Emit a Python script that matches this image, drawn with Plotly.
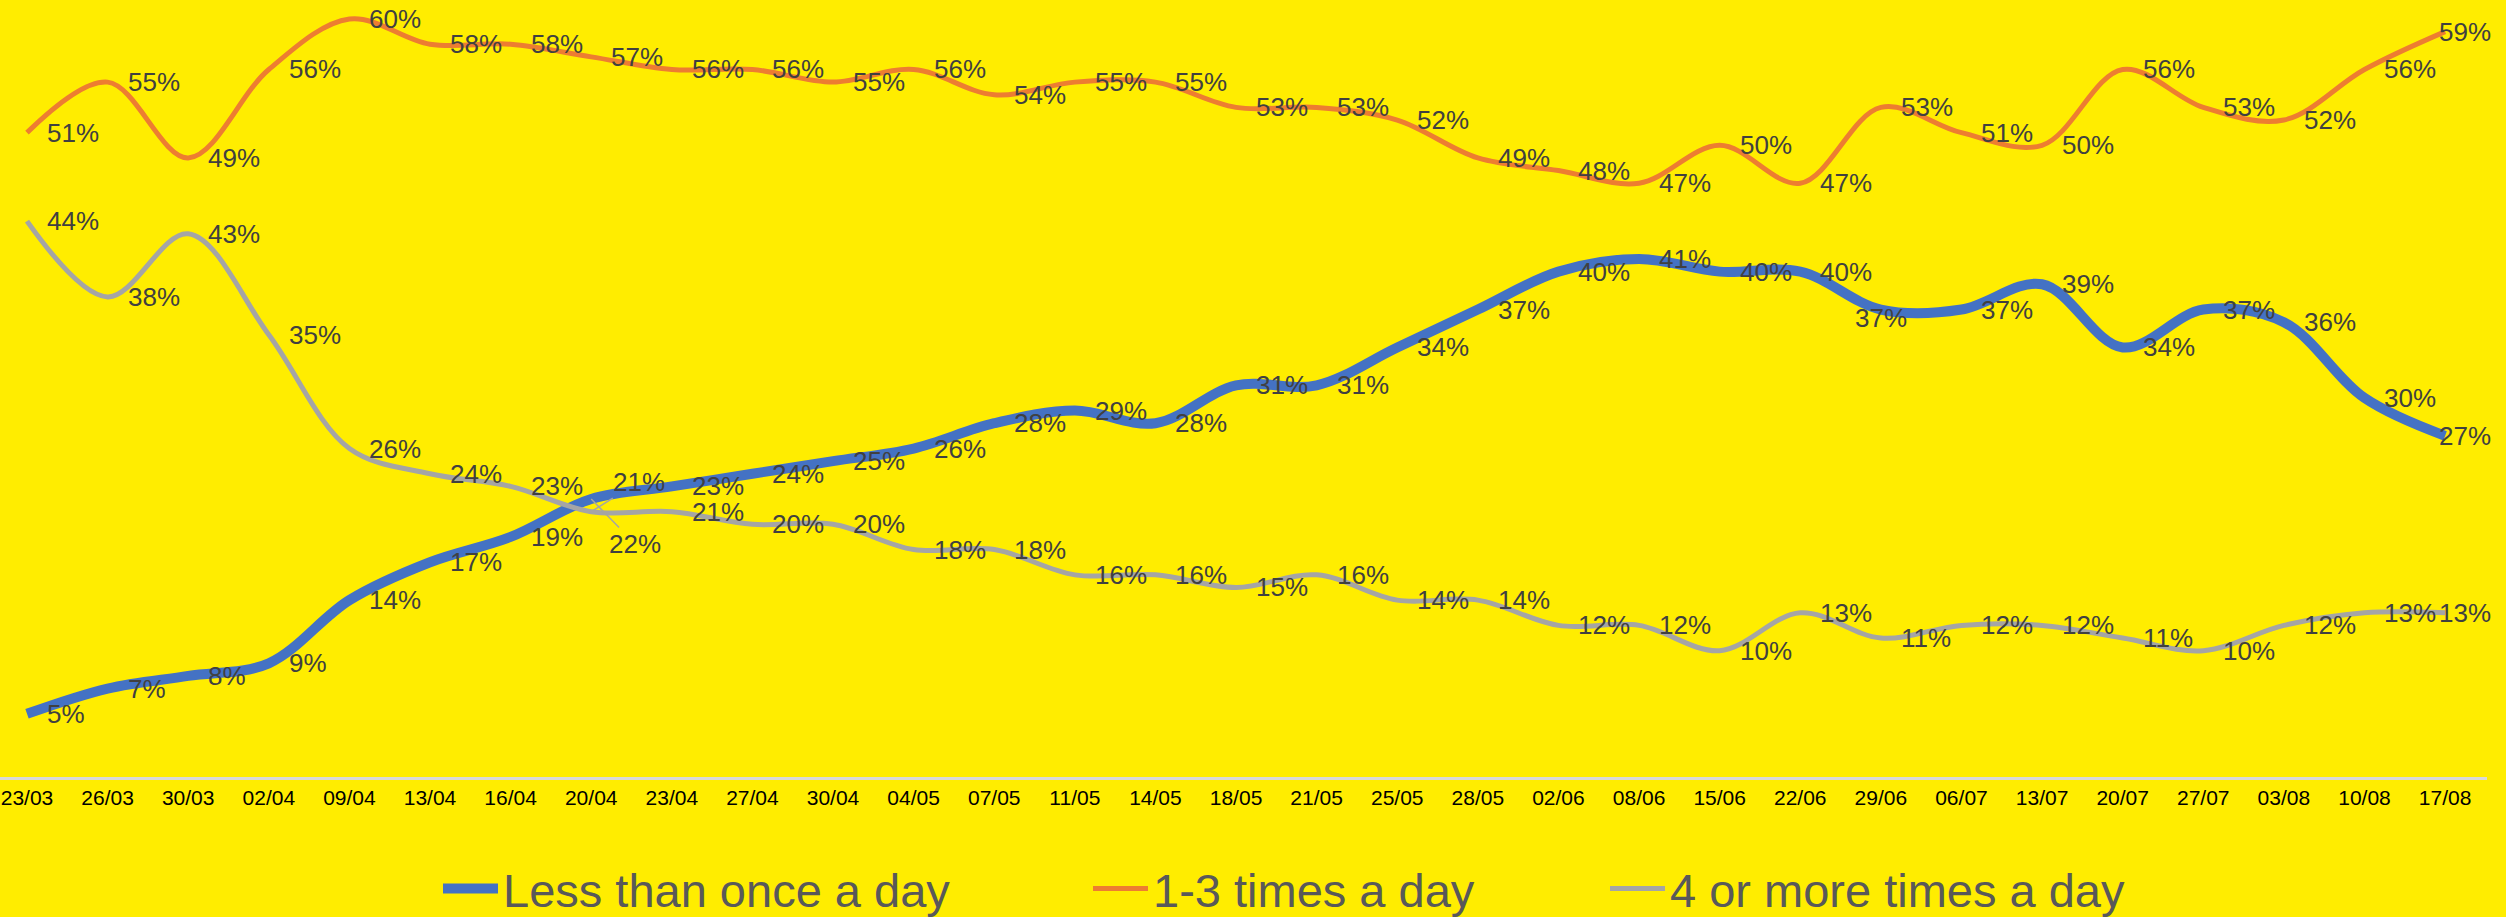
import plotly.graph_objects as go

# Survey waves (dd/mm)
dates = ["23/03", "26/03", "30/03", "02/04", "09/04", "13/04", "16/04", "20/04",
         "23/04", "27/04", "30/04", "04/05", "07/05", "11/05", "14/05", "18/05",
         "21/05", "25/05", "28/05", "02/06", "08/06", "15/06", "22/06", "29/06",
         "06/07", "13/07", "20/07", "27/07", "03/08", "10/08", "17/08"]

# Share of respondents (%)
less_than_once = [5, 7, 8, 9, 14, 17, 19, 22, 23, 24, 25, 26, 28, 29, 28, 31,
                  31, 34, 37, 40, 41, 40, 40, 37, 37, 39, 34, 37, 36, 30, 27]
one_to_three = [51, 55, 49, 56, 60, 58, 58, 57, 56, 56, 55, 56, 54, 55, 55, 53,
                53, 52, 49, 48, 47, 50, 47, 53, 51, 50, 56, 53, 52, 56, 59]
four_or_more = [44, 38, 43, 35, 26, 24, 23, 21, 21, 20, 20, 18, 18, 16, 16, 15,
                16, 14, 14, 12, 12, 10, 13, 11, 12, 12, 11, 10, 12, 13, 13]

series_names = ["Less than once a day", "1-3 times a day", "4 or more times a day"]

BG = "#FFED00"
LABEL_COLOR = "#404040"
FONT = "Liberation Sans, Arial, sans-serif"

styles = [
    dict(color="#4472C4", width=10),
    dict(color="#ED7D31", width=5),
    dict(color="#A5A5A5", width=5),
]
legend_keys = ["legend", "legend2", "legend3"]
legend_left_px = [438, 1088, 1605]

PLOT_W = 2506 - 19
last = len(dates) - 1

fig = go.Figure()
all_values = [less_than_once, one_to_three, four_or_more]
for name, vals, st, lg in zip(series_names, all_values, styles, legend_keys):
    fig.add_trace(go.Scatter(
        x=dates, y=vals, mode="lines", name=name, legend=lg,
        line=dict(color=st["color"], width=st["width"], shape="spline", smoothing=1),
        hoverinfo="skip",
    ))

# Label placement tweaks for crowded points: (series index, point index)
special = {
    (0, 23): dict(xanchor="center", xshift=0, yshift=-8),
    (0, last): dict(xshift=-8),
    (1, last): dict(xshift=-8),
    (2, last): dict(xshift=-8),
}
# Labels pulled away from the crossing, with leader lines
leaders = {
    (0, 7): dict(ax=44, ay=45),
    (2, 7): dict(ax=48, ay=-30),
}

annotations = []
for si, vals in enumerate(all_values):
    for i, v in enumerate(vals):
        key = (si, i)
        base = dict(x=dates[i], y=v, xref="x", yref="y", text=f"{v}%",
                    font=dict(family=FONT, size=26, color=LABEL_COLOR))
        if key in leaders:
            base.update(showarrow=True, arrowhead=0, arrowwidth=1.5,
                        arrowcolor="#A5A5A5", standoff=0, **leaders[key])
        else:
            opts = dict(xanchor="left", yanchor="middle", xshift=18, showarrow=False)
            opts.update(special.get(key, {}))
            base.update(opts)
        annotations.append(base)

layout_legends = {}
for lg, px in zip(legend_keys, legend_left_px):
    layout_legends[lg] = dict(
        x=px / PLOT_W, y=-0.144, xanchor="left", yanchor="middle",
        orientation="h", bgcolor="rgba(0,0,0,0)", borderwidth=0,
        font=dict(family=FONT, size=47, color="#595959"),
        itemwidth=55,
    )

fig.update_layout(
    width=2506, height=917,
    paper_bgcolor=BG, plot_bgcolor=BG,
    margin=dict(l=0, r=19, t=0, b=140, autoexpand=False),
    showlegend=True,
    annotations=annotations,
    xaxis=dict(
        type="category", range=[-0.335, 30.52],
        showgrid=False, zeroline=False, ticks="",
        showline=True, linecolor="#D9D9D9", linewidth=3,
        tickfont=dict(family=FONT, size=21, color="#000000"),
        automargin=False,
    ),
    yaxis=dict(
        range=[0, 61.5], showgrid=False, zeroline=False,
        showticklabels=False, showline=False, ticks="",
        automargin=False,
    ),
    **layout_legends,
)

fig.write_html("out.html")
